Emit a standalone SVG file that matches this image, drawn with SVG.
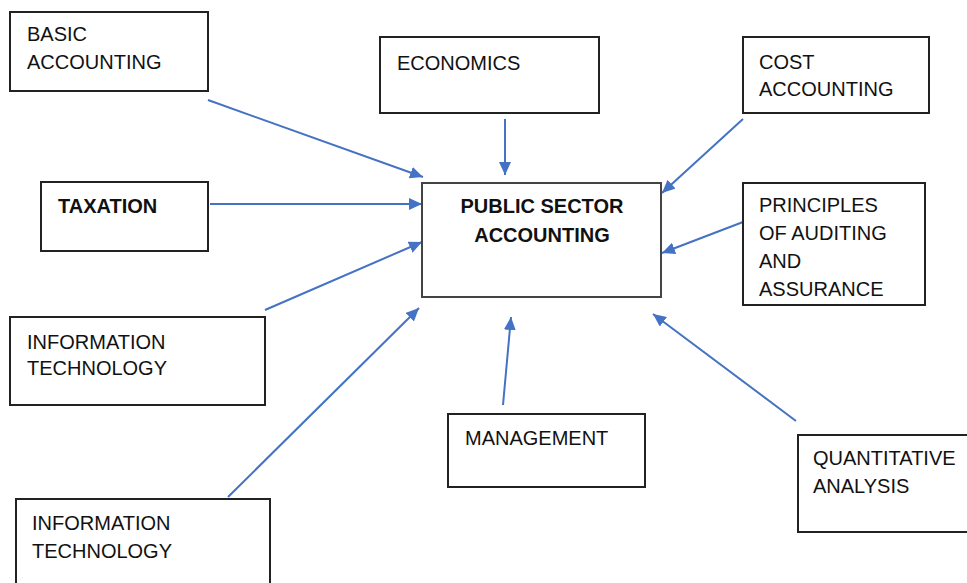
<svg xmlns="http://www.w3.org/2000/svg" width="967" height="583" viewBox="0 0 967 583">
<style>
.box{fill:#fff;stroke:#222;stroke-width:2}
.t{font-family:"Liberation Sans",Arial,sans-serif;font-size:20px;fill:#111}
.b{font-weight:bold}
.c{fill:none;stroke:#4472C4;stroke-width:2;marker-end:url(#ah)}
</style>
<defs>
<marker id="ah" markerUnits="userSpaceOnUse" markerWidth="14" markerHeight="12" refX="13" refY="6" orient="auto">
<path d="M0,0 L13,6 L0,12 z" fill="#4472C4"/>
</marker>
</defs>
<rect width="967" height="583" fill="#fff"/>
<g id="connectors">
<line class="c" x1="208" y1="100" x2="423" y2="177"/>
<line class="c" x1="505" y1="119" x2="505" y2="175"/>
<line class="c" x1="743" y1="119" x2="662" y2="193"/>
<line class="c" x1="210" y1="204" x2="422" y2="204"/>
<line class="c" x1="743" y1="222" x2="662" y2="253"/>
<line class="c" x1="265" y1="310" x2="422" y2="242"/>
<line class="c" x1="228" y1="497" x2="419" y2="308"/>
<line class="c" x1="503" y1="405" x2="511" y2="317"/>
<line class="c" x1="796" y1="421" x2="653" y2="314"/>
</g>
<g id="basic-accounting">
<rect class="box" x="10" y="12" width="198" height="79"/>
<text class="t" x="27" y="41">BASIC</text>
<text class="t" x="27" y="69">ACCOUNTING</text>
</g>
<g id="economics">
<rect class="box" x="380" y="37" width="219" height="76"/>
<text class="t" x="397" y="70">ECONOMICS</text>
</g>
<g id="cost-accounting">
<rect class="box" x="743" y="37" width="186" height="76"/>
<text class="t" x="759" y="69">COST</text>
<text class="t" x="759" y="96">ACCOUNTING</text>
</g>
<g id="taxation">
<rect class="box" x="41" y="182" width="167" height="69"/>
<text class="t b" x="58" y="213">TAXATION</text>
</g>
<g id="public-sector-accounting">
<rect class="box" x="422" y="183" width="239" height="114" style="stroke:#444"/>
<text class="t b" x="542" y="213" text-anchor="middle">PUBLIC SECTOR</text>
<text class="t b" x="542" y="242" text-anchor="middle">ACCOUNTING</text>
</g>
<g id="principles-of-auditing">
<rect class="box" x="743" y="183" width="182" height="122"/>
<text class="t" x="759" y="212">PRINCIPLES</text>
<text class="t" x="759" y="240">OF AUDITING</text>
<text class="t" x="759" y="268">AND</text>
<text class="t" x="759" y="296">ASSURANCE</text>
</g>
<g id="information-technology-1">
<rect class="box" x="10" y="317" width="255" height="88"/>
<text class="t" x="27" y="349">INFORMATION</text>
<text class="t" x="27" y="375">TECHNOLOGY</text>
</g>
<g id="management">
<rect class="box" x="448" y="414" width="197" height="73"/>
<text class="t" x="465" y="445">MANAGEMENT</text>
</g>
<g id="quantitative-analysis">
<rect class="box" x="798" y="435" width="175" height="97"/>
<text class="t" x="813" y="465">QUANTITATIVE</text>
<text class="t" x="813" y="493">ANALYSIS</text>
</g>
<g id="information-technology-2">
<rect class="box" x="16" y="499" width="254" height="100"/>
<text class="t" x="32" y="530">INFORMATION</text>
<text class="t" x="32" y="558">TECHNOLOGY</text>
</g>
</svg>
